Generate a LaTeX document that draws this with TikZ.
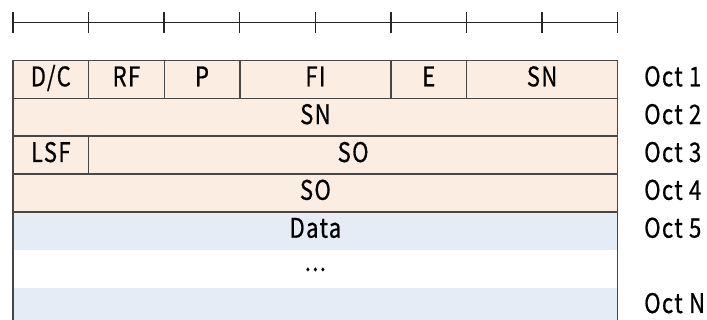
\documentclass[tikz,border=0pt]{standalone}
\usepackage{fontspec}
\setmainfont[FakeStretch=0.82,LetterSpace=5,FakeBold=0.6]{Noto Sans CJK JP}
\definecolor{hdrfill}{HTML}{FCEDE2}
\definecolor{payfill}{HTML}{E6ECF6}
\definecolor{linegray}{HTML}{474747}
\tikzset{
  cell/.style={draw=linegray,fill=hdrfill,line width=1.4pt},
  lbl/.style={font=\fontsize{27}{27}\selectfont,inner sep=0pt,anchor=base},
  oct/.style={lbl,anchor=base west}
}
\begin{document}
\begin{tikzpicture}[x=1pt,y=-1pt]
\useasboundingbox (0,0) rectangle (707,320);
% ruler
\draw[line width=1.4pt,black!85] (13,22.7) -- (617.7,22.7);
\foreach \k in {0,...,8}
  \draw[line width=1.4pt,black!85] (13+75.59*\k,11.7) -- ++(0,21.6);
% payload rows
\fill[payfill] (13,211.9) rectangle (617.7,249.75);
\fill[payfill] (13,287.6) rectangle (617.7,325.45);
\draw[draw=linegray,line width=1.4pt] (13,211.9) -- (13,325.45);
\draw[draw=linegray,line width=1.4pt] (617.7,211.9) -- (617.7,325.45);
% header octets
\draw[cell] (13,60.5) rectangle (88.6,98.35);
\draw[cell] (88.6,60.5) rectangle (164.2,98.35);
\draw[cell] (164.2,60.5) rectangle (239.8,98.35);
\draw[cell] (239.8,60.5) rectangle (391,98.35);
\draw[cell] (391,60.5) rectangle (466.5,98.35);
\draw[cell] (466.5,60.5) rectangle (617.7,98.35);
\draw[cell] (13,98.35) rectangle (617.7,136.2);
\draw[cell] (13,136.2) rectangle (88.6,174.05);
\draw[cell] (88.6,136.2) rectangle (617.7,174.05);
\draw[cell] (13,174.05) rectangle (617.7,211.9);
% field names
\node[lbl] (dc) at (50.8,86.3) {D/C};
\node[lbl] (rf) at (126.4,86.3) {RF};
\node[lbl] (p) at (202,86.3) {P};
\node[lbl] (fi) at (315.4,86.3) {FI};
\node[lbl] (e) at (428.75,86.3) {E};
\node[lbl] (sna) at (542.1,86.3) {SN};
\node[lbl] (snb) at (315.4,124.1) {SN};
\node[lbl] (lsf) at (50.8,162) {LSF};
\node[lbl] (soa) at (353.1,162) {SO};
\node[lbl] (sob) at (315.4,199.8) {SO};
\node[lbl] (data) at (315.4,237.7) {Data};
\node[lbl] (dots) at (315.4,271) {...};
% octet numbers
\node[oct] (o1) at (644,86.3) {Oct 1};
\node[oct] (o2) at (644,124.1) {Oct 2};
\node[oct] (o3) at (644,162) {Oct 3};
\node[oct] (o4) at (644,199.8) {Oct 4};
\node[oct] (o5) at (644,237.7) {Oct 5};
\node[oct] (on) at (644,313) {Oct N};
\end{tikzpicture}
\end{document}
